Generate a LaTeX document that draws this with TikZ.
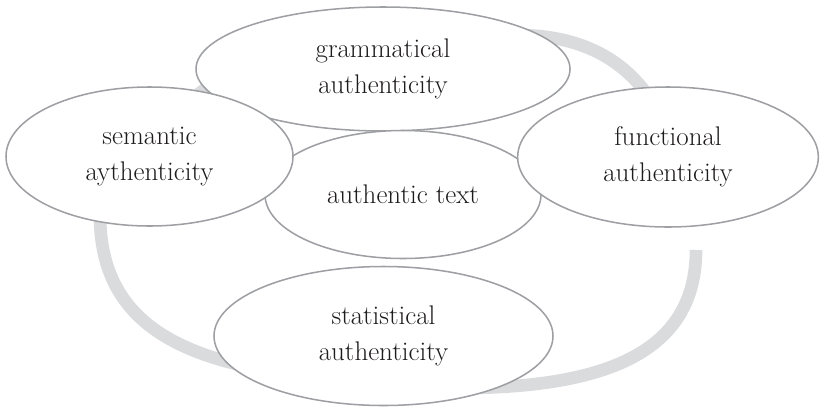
\documentclass[tikz,border=0pt]{standalone}
\usepackage{tikz}
\usetikzlibrary{shapes.geometric}
\definecolor{ovalline}{RGB}{158,159,163}
\definecolor{ringgray}{RGB}{218,219,221}
\definecolor{inktext}{RGB}{30,27,28}

\begin{document}
\begin{tikzpicture}[
    x=0.03cm, y=-0.03cm,
    oval/.style={ellipse, draw=ovalline, fill=white, line width=1.3pt, inner sep=0pt, align=center, text=inktext, font=\fontsize{23}{31}\selectfont},
    ring/.style={draw=ringgray, line width=0.38cm},
]
\useasboundingbox (0,0) rectangle (822,416);

% === BACKGROUND RING ===
\draw[ring] (175,118) .. controls (190,100) and (205,85) .. (240,70);
\draw[ring] (520,35) .. controls (585,36) and (632,62) .. (660,115);
\draw[ring] (696,250) .. controls (696,350) and (610,386) .. (470,388);
\draw[ring] (245,366) .. controls (150,345) and (100,300) .. (100,215);

% === OVALS ===
\node[oval, minimum width=11.22cm, minimum height=3.72cm] (grammatical) at (383,69) {grammatical\\authenticity};
\node[oval, minimum width=8.28cm, minimum height=3.84cm] (authentic) at (403,194.5) {authentic text};
\node[oval, minimum width=8.61cm, minimum height=4.17cm] (semantic) at (149.5,156.5) {semantic\\aythenticity};
\node[oval, minimum width=9.02cm, minimum height=4.2cm] (functional) at (668,157) {functional\\authenticity};
\node[oval, minimum width=10.17cm, minimum height=4.17cm] (statistical) at (383.5,336) {statistical\\authenticity};

\end{tikzpicture}
\end{document}
